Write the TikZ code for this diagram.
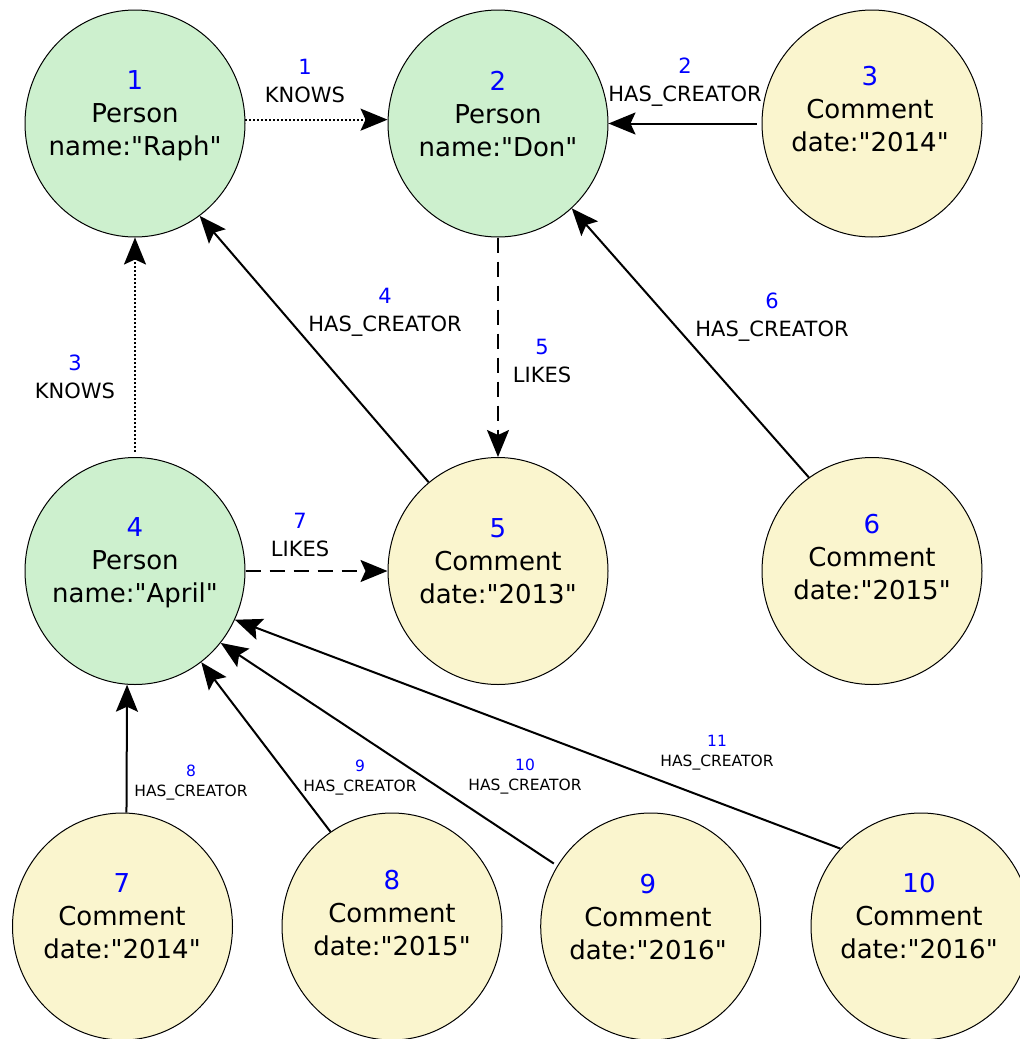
\documentclass[tikz,border=0pt]{standalone}
\usepackage{fontspec}
\setmainfont{DejaVu Sans}[Ligatures=TeXOff]
\usetikzlibrary{arrows.meta,shapes.geometric}
\definecolor{personfill}{RGB}{205,240,206}
\definecolor{commentfill}{RGB}{250,245,206}
\definecolor{idblue}{RGB}{0,0,255}
\newcommand{\idnum}[1]{\textcolor{idblue}{#1}}

\begin{document}
\begin{tikzpicture}[x=1pt,y=-1pt,
  vertex/.style={ellipse, draw=black, line width=1pt, minimum width=220pt,
    minimum height=227pt, inner sep=0pt},
  person/.style={vertex, fill=personfill},
  comment/.style={vertex, fill=commentfill},
  vtext/.style={align=center, font=\fontsize{26}{33}\selectfont, text depth=0pt, inner sep=0pt},
  elabel/.style={align=center, font=\fontsize{21}{28}\selectfont, text depth=0pt, inner sep=0pt},
  slabel/.style={align=center, font=\fontsize{15.5}{20}\selectfont, text depth=0pt, inner sep=0pt},
  rel/.style={line width=2pt, -{Stealth[length=27pt,width=22pt,inset=5pt]}},
  knows/.style={rel, dash pattern=on 2pt off 2pt},
  likes/.style={rel, dash pattern=on 15pt off 9pt},
]
\useasboundingbox (0,0) rectangle (1020,1039);

% vertices
\node[person]  (n1)  at (135,123.5) {};
\node[person]  (n2)  at (498,123.5) {};
\node[comment] (n3)  at (872,123.5) {};
\node[person]  (n4)  at (135,571) {};
\node[comment] (n5)  at (498,571) {};
\node[comment] (n6)  at (872,571) {};
\node[comment] (n7)  at (122.5,926.5) {};
\node[comment] (n8)  at (392,926.5) {};
\node[comment] (n9)  at (650.7,926.5) {};
\node[comment] (n10) at (921,926.5) {};

% vertex texts
\node[vtext] (t1)  at (135,113.5) {\idnum{1}\\Person\\name:"Raph"};
\node[vtext] (t2)  at (498,114)   {\idnum{2}\\Person\\name:"Don"};
\node[vtext] (t3)  at (870,108.5) {\idnum{3}\\Comment\\date:"2014"};
\node[vtext] (t4)  at (135,560)   {\idnum{4}\\Person\\name:"April"};
\node[vtext] (t5)  at (498,561)   {\idnum{5}\\Comment\\date:"2013"};
\node[vtext] (t6)  at (872,556.5) {\idnum{6}\\Comment\\date:"2015"};
\node[vtext] (t7)  at (122,916)   {\idnum{7}\\Comment\\date:"2014"};
\node[vtext] (t8)  at (392,913)   {\idnum{8}\\Comment\\date:"2015"};
\node[vtext] (t9)  at (648,917)   {\idnum{9}\\Comment\\date:"2016"};
\node[vtext] (t10) at (919,916)   {\idnum{10}\\Comment\\date:"2016"};

% relationships
\draw[knows] (n1.2) -- (n2.178);
\draw[rel, shorten <=5pt] (n3) -- (n2);
\draw[knows, shorten <=5pt] (n4) -- (n1);
\draw[rel] (n5.128) -- (n1.305);
\draw[likes] (n2) -- (n5);
\draw[rel] (n6.124) -- (n2.311);
\draw[likes] (n4) -- (n5);
\draw[rel] (n7.88) -- (n4.266);
\draw[rel] (n8.123) -- (n4.306);
\draw[rel, shorten <=4pt] (n9.147) -- (n4.320);
\draw[rel] (n10.136) -- (n4.334);

% relationship labels
\node[elabel] (l1) at (305,81)    {\idnum{1}\\KNOWS};
\node[elabel] (l2) at (685,80)    {\idnum{2}\\HAS\_CREATOR};
\node[elabel] (l3) at (75,376.5)  {\idnum{3}\\KNOWS};
\node[elabel] (l4) at (385,309.5) {\idnum{4}\\HAS\_CREATOR};
\node[elabel] (l5) at (542,361)   {\idnum{5}\\LIKES};
\node[elabel] (l6) at (772,314.5) {\idnum{6}\\HAS\_CREATOR};
\node[elabel] (l7) at (300,535)   {\idnum{7}\\LIKES};
\node[slabel] (l8)  at (191,781)  {\idnum{8}\\HAS\_CREATOR};
\node[slabel] (l9)  at (360,776)  {\idnum{9}\\HAS\_CREATOR};
\node[slabel] (l10) at (525,775)  {\idnum{10}\\HAS\_CREATOR};
\node[slabel] (l11) at (717,751)  {\idnum{11}\\HAS\_CREATOR};
\end{tikzpicture}
\end{document}
